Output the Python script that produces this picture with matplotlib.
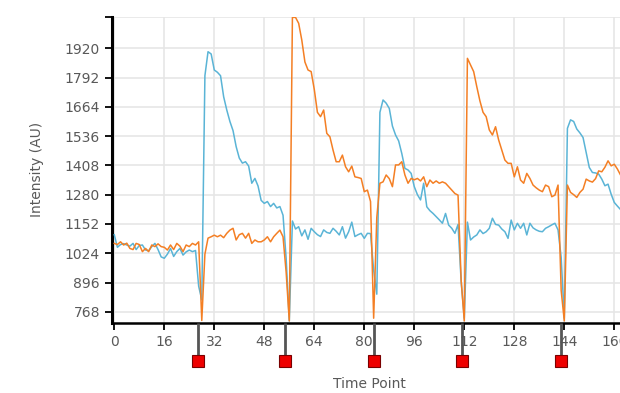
import matplotlib
matplotlib.use("Agg")
import matplotlib.pyplot as plt
import matplotlib.transforms as mtransforms

# --- data (one sample per time point) ---
time = list(range(0, 164))

blue = [
    1105, 1050, 1062, 1066, 1060, 1055, 1067, 1040, 1058, 1060,
    1038, 1035, 1053, 1067, 1040, 1008, 1002, 1020, 1045, 1010,
    1031, 1045, 1016, 1030, 1038, 1031, 1036, 880, 820, 1800,
    1905, 1895, 1825, 1815, 1800, 1708, 1650, 1600, 1560, 1490,
    1440, 1418, 1424, 1405, 1330, 1351, 1318, 1255, 1242, 1250,
    1228, 1242, 1222, 1228, 1190, 1000, 728, 1165, 1130, 1140,
    1100, 1126, 1085, 1133, 1118, 1105, 1097, 1126, 1115, 1111,
    1133, 1120, 1104, 1140, 1090, 1118, 1160, 1097, 1105, 1111,
    1089, 1111, 1110, 950, 845, 1640, 1694, 1680, 1657, 1580,
    1541, 1515, 1460, 1395, 1388, 1373, 1315, 1280, 1257, 1330,
    1227, 1210, 1198, 1184, 1170, 1155, 1198, 1147, 1133, 1111,
    1150, 900, 740, 1160, 1082, 1095, 1104, 1126, 1110, 1118,
    1133, 1177, 1150, 1147, 1130, 1118, 1089, 1169, 1126, 1155,
    1133, 1155, 1104, 1155, 1135, 1126, 1120, 1118, 1133, 1140,
    1148, 1155, 1126, 1006, 740, 1570, 1607, 1600, 1567, 1550,
    1530, 1465, 1399, 1377, 1375, 1370, 1348, 1319, 1326, 1282,
    1246, 1230, 1215, 1215,
]

orange = [
    1067, 1062, 1074, 1060, 1068, 1045, 1040, 1067, 1062, 1031,
    1045, 1031, 1060, 1053, 1065, 1053, 1050, 1038, 1060, 1040,
    1067, 1055, 1031, 1060, 1053, 1067, 1060, 1074, 730, 1020,
    1090, 1096, 1103, 1096, 1103, 1092, 1111, 1125, 1133, 1082,
    1105, 1111, 1090, 1111, 1067, 1082, 1074, 1074, 1082, 1096,
    1074, 1096, 1111, 1125, 1096, 940, 728, 2055, 2055, 2029,
    1956, 1860, 1825, 1818, 1740, 1640, 1621, 1650, 1548, 1533,
    1475, 1424, 1424, 1453, 1402, 1380, 1405, 1358, 1355, 1351,
    1293, 1300, 1250, 740, 1180, 1330, 1336, 1366, 1350, 1315,
    1410, 1410, 1424, 1366, 1330, 1351, 1345, 1351, 1340, 1358,
    1315, 1344, 1330, 1340, 1330, 1336, 1330, 1315, 1300, 1285,
    1278, 905, 728, 1876, 1847, 1818, 1752, 1690, 1640, 1621,
    1563, 1541, 1577, 1519, 1475, 1431, 1417, 1417, 1358, 1402,
    1344, 1330, 1373, 1351, 1322, 1310, 1300, 1293, 1322, 1315,
    1271, 1278, 1322, 861, 728, 1322, 1290, 1280, 1268, 1290,
    1304, 1348, 1340, 1335, 1350, 1384, 1380, 1400, 1428, 1406,
    1413, 1392, 1366, 1366,
]

stim_times = [26.8, 54.7, 83.1, 111.2, 142.8]

x_ticks = [0, 16, 32, 48, 64, 80, 96, 112, 128, 144, 160]
y_ticks = [768, 896, 1024, 1152, 1280, 1408, 1536, 1664, 1792, 1920]
y_top = 2058
y_bottom = 719

COL_BLUE = "#5ab4d6"
COL_ORANGE = "#f47f24"
GRID = "#e6e6e6"
TXT = "#595959"

plt.rcParams.update({
    "font.family": "DejaVu Sans",
    "font.size": 10,
})

fig = plt.figure(figsize=(6.2, 3.93), dpi=100)
ax = fig.add_axes([0.1813, 0.1781, 0.8599, 0.7794])

ax.plot(time, blue, color=COL_BLUE, lw=1.1, zorder=3)
ax.plot(time, orange, color=COL_ORANGE, lw=1.1, zorder=3)

ax.set_xlim(-0.6, 170)
ax.set_ylim(y_bottom, y_top)

ax.set_xticks(x_ticks)
ax.set_yticks(y_ticks + [y_top])
ax.set_yticklabels([str(v) for v in y_ticks] + [""])

ax.grid(True, color=GRID, lw=1.2, zorder=0)
ax.set_axisbelow(True)

for s in ("top", "right"):
    ax.spines[s].set_visible(False)
ax.spines["left"].set_linewidth(2.2)
ax.spines["bottom"].set_linewidth(1.8)
ax.tick_params(axis="both", length=5, width=1.3, color="black",
               labelcolor=TXT, labelsize=10)
ax.tick_params(axis="y", pad=4)
ax.tick_params(axis="x", pad=3.5)

ax.set_ylabel("Intensity (AU)", color=TXT, fontsize=10)
ax.yaxis.set_label_coords(-0.128, 0.5)
ax.set_xlabel("Time Point", color=TXT, fontsize=10)
ax.xaxis.set_label_coords(0.483, -0.176)

# stimulus markers below the time axis
trans = mtransforms.blended_transform_factory(ax.transData, ax.transAxes)
for t in stim_times:
    ax.plot([t, t], [0, -0.122], color="#555555", lw=2.0, transform=trans,
            clip_on=False, zorder=4, solid_capstyle="butt")
    ax.plot(t, -0.124, "s", color="#ee0000", ms=8.5, markeredgecolor="#7a0000",
            markeredgewidth=0.8, transform=trans, clip_on=False, zorder=5)

fig.savefig("out.png", dpi=100)
